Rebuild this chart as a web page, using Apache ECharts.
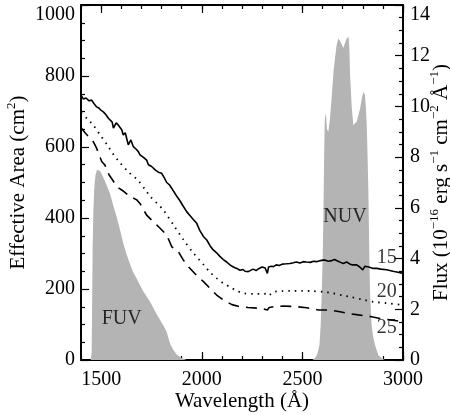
<!DOCTYPE html>
<html><head><meta charset="utf-8">
<script src="https://cdn.jsdelivr.net/npm/echarts@6/dist/echarts.min.js"></script>
<style>html,body{margin:0;padding:0;background:#fff}#c{width:450px;height:415px}</style>
</head><body><div id="c"></div>
<script>
// ---- data ----
const xMajor = [1500, 2000, 2500, 3000];
const wl15 = [1400,1412,1425,1440,1453,1465,1478,1490,1500,1511,1525,1536,1545,1555,1561,1575,1585,1594,1603,1610,1620,1628,1635,1648,1660,1672,1685,1693,1701,1712,1726,1735,1743,1751,1760,1770,1776,1788,1801,1812,1826,1840,1855,1875,1890,1905,1925,1940,1958,1975,1990,2008,2025,2041,2057,2074,2090,2107,2124,2140,2157,2174,2190,2205,2215,2231,2240,2255,2270,2285,2300,2315,2326,2332,2345,2356,2370,2385,2400,2420,2439,2455,2470,2488,2505,2520,2540,2555,2571,2590,2610,2630,2646,2660,2675,2690,2703,2720,2737,2750,2770,2785,2800,2810,2830,2852,2870,2890,2919,2950,2975,3000];
const area15 = [746,735,738,730,732,722,713,709,703,699,690,681,677,670,653,668,662,657,648,634,640,622,606,620,601,595,587,578,573,570,563,550,549,545,542,535,530,528,526,515,500,493,480,462,450,436,418,408,396,385,365,348,338,322,310,302,292,283,276,268,262,258,253,255,250,249,252,256,252,258,262,259,244,262,264,263,268,266,270,271,272,274,276,273,277,276,275,278,277,280,282,278,280,283,279,275,272,276,270,268,268,262,254,264,262,258,258,256,254,250,247,244];
const wl20 = [1400,1430,1460,1495,1530,1560,1595,1635,1685,1720,1745,1780,1810,1860,1910,1960,2010,2040,2075,2110,2140,2170,2210,2260,2300,2323,2330,2360,2400,2440,2500,2550,2604,2650,2700,2737,2800,2852,2920,3000];
const area20 = [697,680,662,634,606,580,555,530,505,479,460,440,422,380,338,300,268,248,230,215,206,196,188,186,186,187,182,192,194,195,195,194,192,188,182,178,170,164,160,155];
const wl25 = [1400,1420,1461,1478,1503,1519,1540,1557,1578,1610,1640,1677,1693,1726,1751,1793,1826,1851,1884,1908,1933,1975,2010,2041,2074,2110,2150,2190,2230,2273,2300,2326,2335,2370,2405,2440,2472,2521,2579,2629,2687,2728,2778,2844,2886,2950,3000];
const area25 = [655,640,615,596,559,549,521,507,488,476,462,451,441,408,394,371,352,319,305,282,263,238,220,202,183,168,156,150,148,146,145,141,148,151,152,151,150,147,141,141,136,131,127,122,117,112,108];
const wlFUV = [1448,1453,1455,1458,1462,1466,1472,1480,1486,1495,1511,1527,1544,1560,1577,1595,1610,1625,1643,1660,1677,1693,1710,1726,1743,1760,1776,1793,1810,1826,1835,1845,1860,1875,1892,1908,1925];
const fluxFUV = [0,0.3,2.0,4.5,6.0,6.8,7.3,7.5,7.56,7.45,7.2,6.9,6.57,6.1,5.65,5.1,4.6,4.2,3.8,3.45,3.2,2.95,2.7,2.5,2.3,2.05,1.8,1.58,1.35,1.1,0.85,0.6,0.38,0.22,0.12,0.05,0];
const wlNUV = [2550,2565,2575,2585,2591,2596,2601,2605,2608,2611,2614,2618,2622,2629,2637,2645,2655,2662,2670,2678,2686,2695,2703,2712,2720,2730,2734,2737,2745,2753,2762,2770,2780,2787,2795,2803,2811,2816,2820,2824,2828,2832,2836,2844,2852,2861,2877,2895,2910];
const fluxNUV = [0,0.1,0.25,0.6,1.38,2.6,4.0,6.0,8.0,9.4,9.7,9.6,9.1,9.0,9.5,10.3,11.4,11.9,12.4,12.68,12.6,12.45,12.3,12.5,12.68,12.75,12.2,11.24,10.0,9.27,9.3,9.4,9.7,9.92,10.3,10.58,10.45,9.9,9.27,8.0,6.64,4.5,2.69,1.38,0.9,0.59,0.2,0.06,0];
const noteText = ['15','20','25','FUV','NUV'];
const noteX = [2919,2919,2919,1602,2712];
const noteY = [287,192,90,115,403];

// ---- chart ----
const F = "'Liberation Serif', 'Times New Roman', serif";
const zip = (a, b) => a.map((v, i) => [v, b[i]]);
const plain = v => String(v);
const line2 = {show: true, lineStyle: {color: '#000', width: 2}};
function xAx(pos, major, withLine, withLabel) {
  const o = {
    type: 'value', position: pos, min: 1400, max: 3000, interval: 100,
    axisLine: withLine ? line2 : {show: false},
    splitLine: {show: false},
    axisTick: {show: true, inside: true, length: major ? 8 : 4, lineStyle: {color: '#000', width: 1.2}},
    axisLabel: {show: false}
  };
  if (major) o.axisTick.customValues = xMajor;
  if (withLabel) {
    o.axisLabel = {show: true, customValues: xMajor, formatter: plain, color: '#000', fontFamily: F, fontSize: 20, margin: 10};
    o.name = 'Wavelength (Å)';
    o.nameLocation = 'middle';
    o.nameGap = 31;
    o.nameMoveOverlap = false;
    o.nameTextStyle = {color: '#000', fontFamily: F, fontSize: 21};
  }
  return o;
}
const richN = {fontFamily: F, fontSize: 21, color: '#000', lineHeight: 26, verticalAlign: 'middle'};
const richS = {fontFamily: F, fontSize: 13, color: '#000', lineHeight: 14, verticalAlign: 'top'};

const option = {
  animation: false,
  backgroundColor: '#fff',
  textStyle: {fontFamily: F},
  grid: {left: 81, right: 47, top: 5, bottom: 55, containLabel: false, outerBoundsMode: 'none'},
  xAxis: [xAx('bottom', false, true, true), xAx('bottom', true, false, false), xAx('top', false, true, false), xAx('top', true, false, false)],
  yAxis: [
    {type: 'value', position: 'left', min: 0, max: 1000, interval: 200,
     axisLine: line2, splitLine: {show: false},
     axisTick: {show: true, inside: true, length: 8, lineStyle: {color: '#000', width: 1.2}},
     minorTick: {show: true, splitNumber: 4, length: 4, lineStyle: {color: '#000', width: 1.2}},
     axisLabel: {formatter: plain, color: '#000', fontFamily: F, fontSize: 20, margin: 6, verticalAlignMaxLabel: 'top'},
     name: '{n|Effective Area (cm}{s|2}{n|)}', nameLocation: 'middle', nameGap: 50, nameRotate: 90, nameMoveOverlap: false,
     nameTextStyle: {rich: {n: richN, s: richS}}},
    {type: 'value', position: 'right', min: 0, max: 14, interval: 2,
     axisLine: line2, splitLine: {show: false},
     axisTick: {show: true, inside: true, length: 8, lineStyle: {color: '#000', width: 1.2}},
     minorTick: {show: true, splitNumber: 4, length: 4, lineStyle: {color: '#000', width: 1.2}},
     axisLabel: {formatter: plain, color: '#000', fontFamily: F, fontSize: 20, margin: 7, verticalAlignMaxLabel: 'top'},
     name: '{n|Flux (10}{s|−16}{n| erg s}{s|−1}{n| cm}{s|−2}{n| Å}{s|−1}{n|)}', nameLocation: 'middle', nameGap: 25, nameRotate: 90, nameMoveOverlap: false,
     nameTextStyle: {rich: {n: richN, s: richS}}}
  ],
  series: [
    {type: 'line', name: 'FUV', xAxisIndex: 0, yAxisIndex: 1, data: zip(wlFUV, fluxFUV), symbol: 'none', silent: true,
     lineStyle: {width: 0}, areaStyle: {color: '#b4b4b4', opacity: 1}, z: 1},
    {type: 'line', name: 'NUV', xAxisIndex: 0, yAxisIndex: 1, data: zip(wlNUV, fluxNUV), symbol: 'none', silent: true,
     lineStyle: {width: 0}, areaStyle: {color: '#b4b4b4', opacity: 1}, z: 1},
    {type: 'line', name: '15', xAxisIndex: 0, yAxisIndex: 0, data: zip(wl15, area15), symbol: 'none', silent: true,
     lineStyle: {color: '#000', width: 1.6}, z: 3},
    {type: 'line', name: '20', xAxisIndex: 0, yAxisIndex: 0, data: zip(wl20, area20), symbol: 'none', silent: true, smooth: 0.3,
     lineStyle: {color: '#000', width: 1.8, type: [1.5, 5]}, z: 3},
    {type: 'line', name: '25', xAxisIndex: 0, yAxisIndex: 0, data: zip(wl25, area25), symbol: 'none', silent: true,
     lineStyle: {color: '#000', width: 1.6, type: [11, 7]}, z: 3},
    {type: 'scatter', xAxisIndex: 0, yAxisIndex: 0, silent: true, symbolSize: 1, itemStyle: {color: 'rgba(0,0,0,0)'},
     data: noteText.map((t, i) => [noteX[i], noteY[i], t]),
     label: {show: true, position: 'inside', formatter: p => p.data[2], color: '#000', fontFamily: F, fontSize: 20}, z: 4}
  ]
};
const chart = echarts.init(document.getElementById('c'), null, {renderer: 'canvas'});
chart.setOption(option);
</script>
</body></html>
